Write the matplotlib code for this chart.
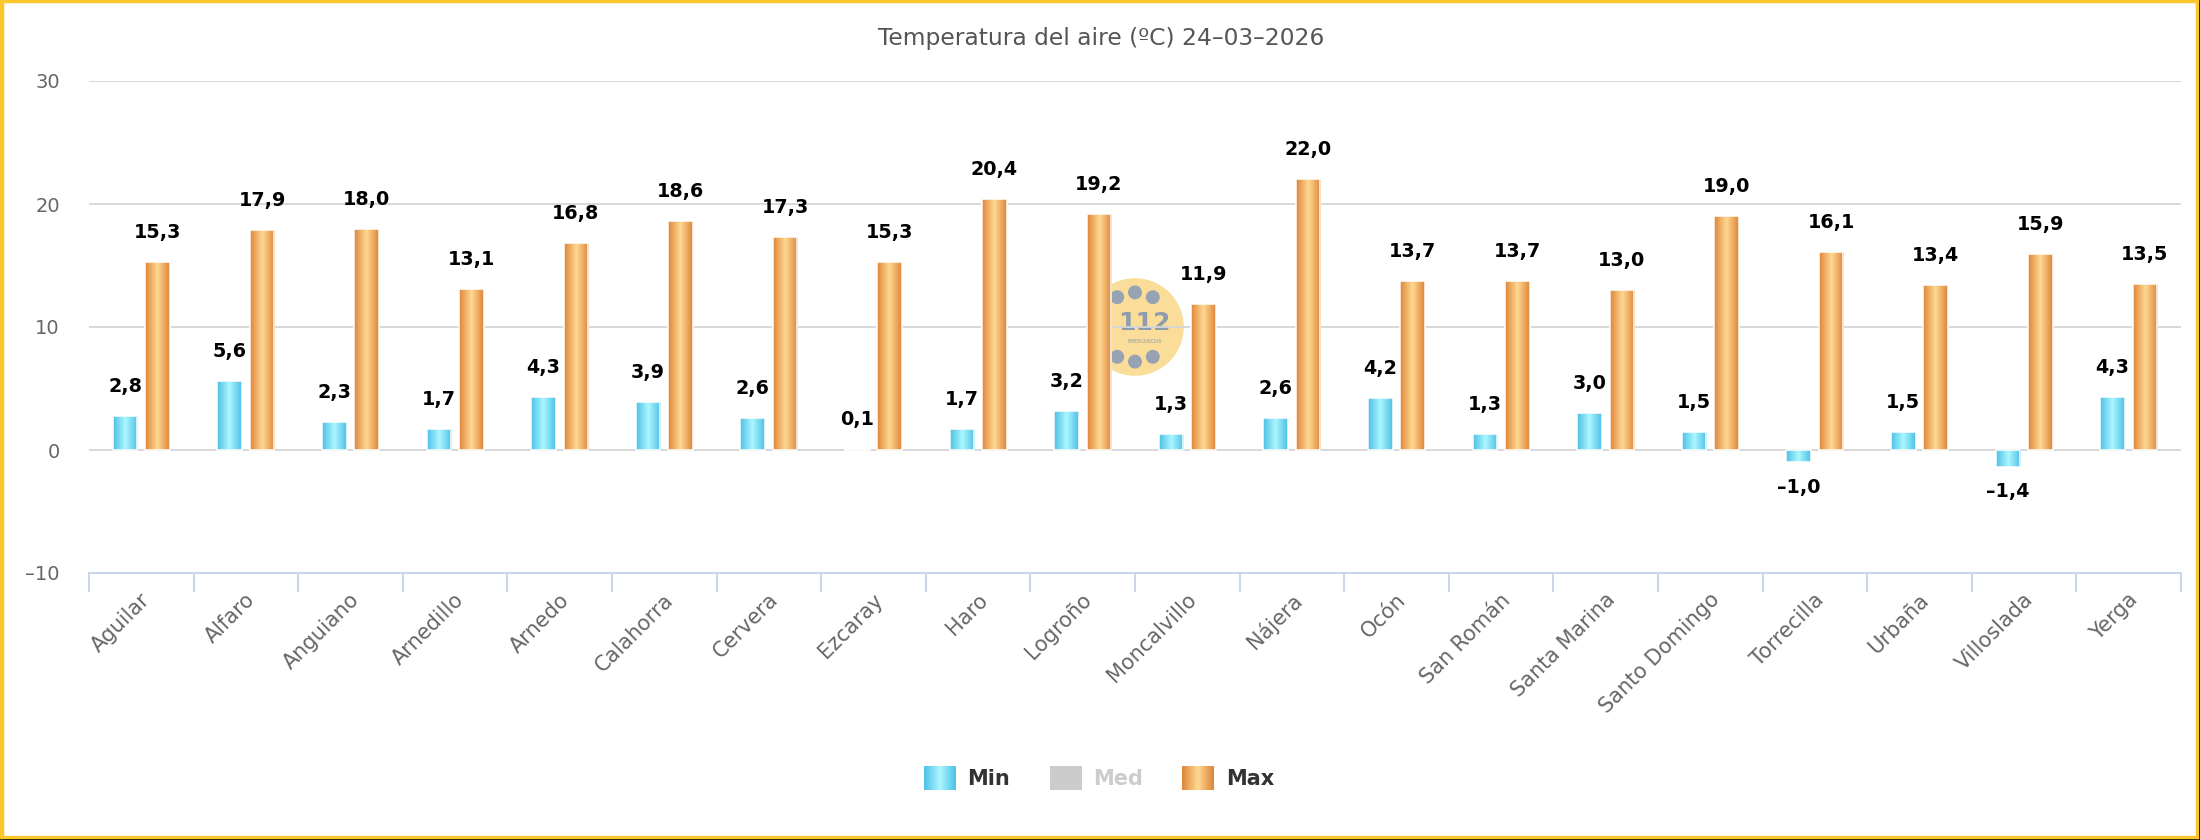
import numpy as np
import matplotlib
matplotlib.use("Agg")
from matplotlib import pyplot as plt
from matplotlib.patches import Rectangle, Circle
from matplotlib.colors import to_rgb
import matplotlib.ticker as tkr
import matplotlib.transforms as mtrans

stations = ["Aguilar", "Alfaro", "Anguiano", "Arnedillo", "Arnedo", "Calahorra",
            "Cervera", "Ezcaray", "Haro", "Logroño", "Moncalvillo", "Nájera",
            "Ocón", "San Román", "Santa Marina", "Santo Domingo", "Torrecilla",
            "Urbaña", "Villoslada", "Yerga"]
t_min = [2.8, 5.6, 2.3, 1.7, 4.3, 3.9, 2.6, 0.1, 1.7, 3.2,
         1.3, 2.6, 4.2, 1.3, 3.0, 1.5, -1.0, 1.5, -1.4, 4.3]
t_max = [15.3, 17.9, 18.0, 13.1, 16.8, 18.6, 17.3, 15.3, 20.4, 19.2,
         11.9, 22.0, 13.7, 13.7, 13.0, 19.0, 16.1, 13.4, 15.9, 13.5]
series_names = ["Min", "Med", "Max"]
y_ticks = [-10, 0, 10, 20, 30]
title = "Temperatura del aire (ºC) 24–03–2026"

W, H = 2200, 840
CYAN = ("#4EC0E5", "#ABF7FF")
ORANGE = ("#DF8539", "#FFD891")


def gradient(edge, mid, n=64):
    a, b = np.array(to_rgb(edge)), np.array(to_rgb(mid))
    t = 1 - np.abs(np.linspace(-1, 1, n))
    return (a[None, :] * (1 - t[:, None]) + b[None, :] * t[:, None])[None, :, :]


def fmt(v):
    s = f"{abs(v):.1f}".replace(".", ",")
    return ("–" + s) if v < 0 else s


plt.rcParams['font.family'] = ['DejaVu Sans']
fig = plt.figure(figsize=(W / 100, H / 100), dpi=100)
ax = fig.add_axes([89 / W, 1 - 573 / H, (2181 - 89) / W, (573 - 81) / H])
ax.set_facecolor("none")
ax.set_zorder(2)

# background logo, centered in the plot area
lw_, lh_ = 100 / W, 100 / H
pos = ax.get_position()
lax = fig.add_axes([pos.x0 + pos.width / 2 - lw_ / 2, pos.y0 + pos.height / 2 - lh_ / 2, lw_, lh_])
lax.set_zorder(1)
lax.set_xlim(-1.04, 1.04)
lax.set_ylim(-1.04, 1.04)
lax.axis("off")
lax.add_patch(Circle((0, 0), 1, color="#F9DD98"))
for dx, dy in [(-0.37, 0.62), (0, 0.72), (0.37, 0.62), (-0.37, -0.62), (0, -0.72), (0.37, -0.62)]:
    lax.add_patch(Circle((dx, dy), 0.13, color="#97A3B3"))
lax.text(0.2, 0.08, "112", ha="center", va="center", fontsize=18, fontweight="bold",
         color="#8E9CAE")
lax.text(0.2, -0.3, "EMERGENCIAS", ha="center", va="center", fontsize=3.4, color="#8E9CAE")

x = np.arange(len(stations))
bw, off = 0.235, 0.155
for vals, cols, dx in [(t_min, CYAN, -off), (t_max, ORANGE, off)]:
    bars = ax.bar(x + dx, vals, width=bw, facecolor="none", edgecolor="white",
                  linewidth=1.1, zorder=4)
    img = gradient(*cols)
    for b, v in zip(bars, vals):
        bx, by, bwid, bh = b.get_x(), b.get_y(), b.get_width(), b.get_height()
        im = ax.imshow(img, extent=(bx, bx + bwid, by, by + bh), aspect="auto",
                       interpolation="bilinear", zorder=3)
        im.set_clip_path(b)
        if v >= 0:
            ax.annotate(fmt(v), (bx + bwid / 2, by + bh), xytext=(0, 17.3),
                        textcoords="offset points", ha="center", va="baseline",
                        fontsize=13.8, fontweight="bold", color="black", zorder=6)
        else:
            ax.annotate(fmt(v), (bx + bwid / 2, by + bh), xytext=(0, -11),
                        textcoords="offset points", ha="center", va="top",
                        fontsize=13.8, fontweight="bold", color="black", zorder=6)

ax.set_xlim(-0.5, len(stations) - 0.5)
ax.set_ylim(y_ticks[0], y_ticks[-1])
ax.set_yticks(y_ticks)
ax.yaxis.set_major_formatter(tkr.FuncFormatter(lambda v, p: fmt(v).replace(",0", "")))
ax.grid(axis="y", color="#d6d6d6", linewidth=1.3, zorder=0)
ax.set_axisbelow(True)
for s in ["top", "right", "left"]:
    ax.spines[s].set_visible(False)
ax.spines["bottom"].set_color("#ccd6eb")
ax.spines["bottom"].set_linewidth(1.5)
ax.tick_params(axis="y", length=0, pad=21, labelsize=14, labelcolor="#666666")

ax.set_xticks(x)
ax.set_xticklabels(stations)
ax.set_xticks(np.arange(len(stations) + 1) - 0.5, minor=True)
ax.tick_params(axis="x", which="major", length=0, pad=12, labelsize=15, labelcolor="#666666")
ax.tick_params(axis="x", which="minor", length=13.7, width=1.5, color="#ccd6eb")
shift = mtrans.ScaledTranslation(-1 / 100, 0, fig.dpi_scale_trans)
for lab in ax.get_xticklabels():
    lab.set_rotation(45)
    lab.set_ha("right")
    lab.set_va("top")
    lab.set_rotation_mode("anchor")
    lab.set_transform(lab.get_transform() + shift)

fig.text(1101 / W, 1 - 39 / H, title, ha="center", va="center", fontsize=16.8, color="#555555")

# legend
legend_items = [(924, 967, CYAN, "#333333"), (1050, 1093, None, "#cccccc"),
                (1182, 1226, ORANGE, "#333333")]
for name, (sx, tx, cols, tc) in zip(series_names, legend_items):
    sax = fig.add_axes([sx / W, 1 - 790 / H, 32 / W, 24 / H])
    sax.axis("off")
    if cols is None:
        sax.imshow(np.full((1, 2, 3), to_rgb("#cccccc")), aspect="auto", extent=(0, 1, 0, 1))
    else:
        sax.imshow(gradient(*cols), aspect="auto", interpolation="bilinear", extent=(0, 1, 0, 1))
    fig.text(tx / W, 1 - 779 / H, name, ha="left", va="center", fontsize=15,
             fontweight="bold", color=tc)

# frame
yel = "#FCC62D"
fig.patches.append(Rectangle((2198 / W, 0), 2 / W, 1, transform=fig.transFigure,
                             color="black", zorder=10))
fig.patches.append(Rectangle((0, 0), 1, 2 / H, transform=fig.transFigure,
                             color="black", zorder=10))
fig.patches.append(Rectangle((0, 2 / H), 2.6 / W, 838 / H, transform=fig.transFigure,
                             color=yel, zorder=10))
fig.patches.append(Rectangle((0, 1 - 2.2 / H), 2198 / W, 2.2 / H, transform=fig.transFigure,
                             color=yel, zorder=10))
fig.patches.append(Rectangle((2195.5 / W, 2 / H), 2.5 / W, 838 / H, transform=fig.transFigure,
                             color=yel, zorder=10))
fig.patches.append(Rectangle((0, 2 / H), 2198 / W, 2.3 / H, transform=fig.transFigure,
                             color=yel, zorder=10))

fig.savefig("out.png", dpi=100, facecolor="white")
